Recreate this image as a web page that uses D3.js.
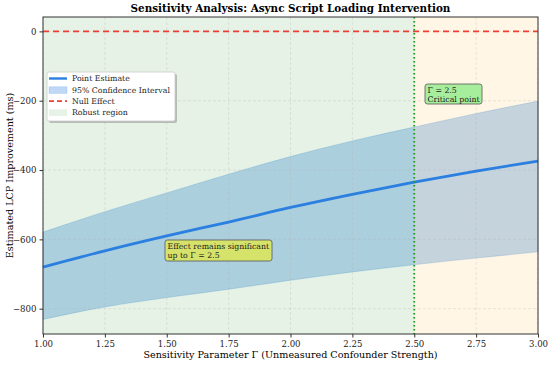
<!DOCTYPE html>
<html lang="en">
<head>
<meta charset="utf-8">
<title>Sensitivity Analysis</title>
<script src="https://cdn.jsdelivr.net/npm/d3@7"></script>
<style>
  body { margin: 0; background: #fff; }
  svg { font-family: "DejaVu Serif", serif; }
</style>
</head>
<body>
<script>
// values
let gammas   = [1.00, 1.25, 1.50, 1.75, 2.00, 2.25, 2.50, 2.75, 3.00];
let estimate = [-680, -633, -590, -550, -508, -470, -435, -403, -374];
let ciUpper  = [-579, -520, -466, -412, -361, -316, -276, -237, -201];
let ciLower  = [-831, -795, -768, -744, -718, -694, -673, -654, -636];
let xTicks = [1.00, 1.25, 1.50, 1.75, 2.00, 2.25, 2.50, 2.75, 3.00];
let yTicks = [0, -200, -400, -600, -800];
let criticalGamma = 2.5;

let w = 550, h = 365;
let padL = 43, padR = 538, padT = 17, padB = 334;
let blue = "#2a7fe0";
let red = "#ee3e36";

let data = gammas.map((g, i) => ({g: g, est: estimate[i], lo: ciLower[i], hi: ciUpper[i]}));

let xScale = d3.scaleLinear().domain([1, 3]).range([padL, padR]);
let yScale = d3.scaleLinear().domain([-873, 41.5]).range([padB, padT]);

let svg = d3.select("body").append("svg")
  .attr("width", w)
  .attr("height", h);

// confidence band
let area = d3.area()
  .x(d => xScale(d.g))
  .y0(d => yScale(d.lo))
  .y1(d => yScale(d.hi))
  .curve(d3.curveMonotoneX);

svg.append("path")
  .datum(data)
  .attr("d", area)
  .attr("fill", blue)
  .attr("fill-opacity", 0.3)
  .attr("stroke", blue)
  .attr("stroke-opacity", 0.25)
  .attr("stroke-width", 0.8);

// robust / non-robust regions
svg.append("rect")
  .attr("x", xScale(1)).attr("y", padT)
  .attr("width", xScale(criticalGamma) - xScale(1))
  .attr("height", padB - padT)
  .attr("fill", "green").attr("fill-opacity", 0.1);

svg.append("rect")
  .attr("x", xScale(criticalGamma)).attr("y", padT)
  .attr("width", xScale(3) - xScale(criticalGamma))
  .attr("height", padB - padT)
  .attr("fill", "orange").attr("fill-opacity", 0.1);

// grid
let grid = svg.append("g")
  .attr("stroke", "#b0b0b0")
  .attr("stroke-opacity", 0.35)
  .attr("stroke-width", 0.8)
  .attr("stroke-dasharray", "3,2");
grid.selectAll("line.gx").data(xTicks).enter().append("line")
  .attr("x1", d => xScale(d)).attr("x2", d => xScale(d))
  .attr("y1", padT).attr("y2", padB);
grid.selectAll("line.gy").data(yTicks).enter().append("line")
  .attr("x1", padL).attr("x2", padR)
  .attr("y1", d => yScale(d)).attr("y2", d => yScale(d));

// point estimate
let line = d3.line()
  .x(d => xScale(d.g))
  .y(d => yScale(d.est))
  .curve(d3.curveMonotoneX);

svg.append("path")
  .datum(data)
  .attr("d", line)
  .attr("fill", "none")
  .attr("stroke", blue)
  .attr("stroke-width", 2.8);

// null effect
svg.append("line")
  .attr("x1", padL).attr("x2", padR)
  .attr("y1", yScale(0)).attr("y2", yScale(0))
  .attr("stroke", red)
  .attr("stroke-width", 1.7)
  .attr("stroke-dasharray", "6,4");

// critical gamma
svg.append("line")
  .attr("x1", xScale(criticalGamma)).attr("x2", xScale(criticalGamma))
  .attr("y1", padT).attr("y2", padB)
  .attr("stroke", "#1a9a1a")
  .attr("stroke-width", 1.8)
  .attr("stroke-dasharray", "1.5,2.5");

// axes
let xAxis = d3.axisBottom(xScale).tickValues(xTicks).tickFormat(d3.format(".2f")).tickSize(3.5).tickPadding(3);
let yAxis = d3.axisLeft(yScale).tickValues(yTicks).tickFormat(d => d3.format("")(d).replace("-", "\u2212")).tickSize(3.5).tickPadding(3);

let gx = svg.append("g")
  .attr("transform", "translate(0," + padB + ")")
  .call(xAxis);
let gy = svg.append("g")
  .attr("transform", "translate(" + padL + ",0)")
  .call(yAxis);
[gx, gy].forEach(g => {
  g.select(".domain").remove();
  g.selectAll("line").attr("stroke", "#333");
  g.selectAll("text").attr("font-family", "DejaVu Serif").attr("font-size", 8.6).attr("fill", "#222");
});

// frame
svg.append("rect")
  .attr("x", padL).attr("y", padT)
  .attr("width", padR - padL).attr("height", padB - padT)
  .attr("fill", "none")
  .attr("stroke", "#333")
  .attr("stroke-width", 1);

// title and labels
svg.append("text")
  .attr("x", (padL + padR) / 2).attr("y", 11.8)
  .attr("text-anchor", "middle")
  .attr("font-size", 10.4).attr("font-weight", "bold")
  .text("Sensitivity Analysis: Async Script Loading Intervention");

svg.append("text")
  .attr("x", (padL + padR) / 2).attr("y", 358)
  .attr("text-anchor", "middle")
  .attr("font-size", 9.6)
  .text("Sensitivity Parameter \u0393 (Unmeasured Confounder Strength)");

svg.append("text")
  .attr("transform", "translate(13," + ((padT + padB) / 2) + ") rotate(-90)")
  .attr("text-anchor", "middle")
  .attr("font-size", 9.6)
  .text("Estimated LCP Improvement (ms)");

// annotation boxes
function noteBox(x, y, bw, bh, fill, lines) {
  let g = svg.append("g");
  g.append("rect")
    .attr("x", x).attr("y", y).attr("width", bw).attr("height", bh)
    .attr("rx", 2.5)
    .attr("fill", fill)
    .attr("stroke", "#555").attr("stroke-width", 0.8);
  lines.forEach((t, i) => {
    g.append("text")
      .attr("x", x + 2.5).attr("y", y + 8.6 + i * 9)
      .attr("font-size", 7.8).attr("fill", "#222")
      .text(t);
  });
}
noteBox(425, 84, 57, 20, "#a7ee9c", ["\u0393 = 2.5", "Critical point"]);
noteBox(165, 240, 107, 21, "#d5e36a", ["Effect remains significant", "up to \u0393 = 2.5"]);

// legend
let lg = svg.append("g");
lg.append("rect")
  .attr("x", 49).attr("y", 74).attr("width", 128).attr("height", 49)
  .attr("rx", 2).attr("fill", "#888").attr("fill-opacity", 0.5);
lg.append("rect")
  .attr("x", 47).attr("y", 72).attr("width", 128).attr("height", 49)
  .attr("rx", 2).attr("fill", "#fff").attr("stroke", "#ccc").attr("stroke-width", 0.8);

let legendItems = [
  {label: "Point Estimate", type: "line"},
  {label: "95% Confidence Interval", type: "band"},
  {label: "Null Effect", type: "dash"},
  {label: "Robust region", type: "region"}
];
legendItems.forEach((d, i) => {
  let cy = 78.5 + i * 11.3;
  if (d.type === "line") {
    lg.append("line").attr("x1", 49).attr("x2", 67).attr("y1", cy).attr("y2", cy)
      .attr("stroke", blue).attr("stroke-width", 2.4);
  } else if (d.type === "band") {
    lg.append("rect").attr("x", 49).attr("y", cy - 3).attr("width", 18).attr("height", 6.5)
      .attr("fill", blue).attr("fill-opacity", 0.3).attr("stroke", blue).attr("stroke-opacity", 0.3).attr("stroke-width", 0.6);
  } else if (d.type === "dash") {
    lg.append("line").attr("x1", 49).attr("x2", 67).attr("y1", cy).attr("y2", cy)
      .attr("stroke", red).attr("stroke-width", 1.6).attr("stroke-dasharray", "5,3");
  } else {
    lg.append("rect").attr("x", 49).attr("y", cy - 3).attr("width", 18).attr("height", 6.5)
      .attr("fill", "green").attr("fill-opacity", 0.1);
  }
  lg.append("text")
    .attr("x", 72).attr("y", cy + 2.7)
    .attr("font-size", 7.8).attr("fill", "#222")
    .text(d.label);
});
</script>
</body>
</html>
